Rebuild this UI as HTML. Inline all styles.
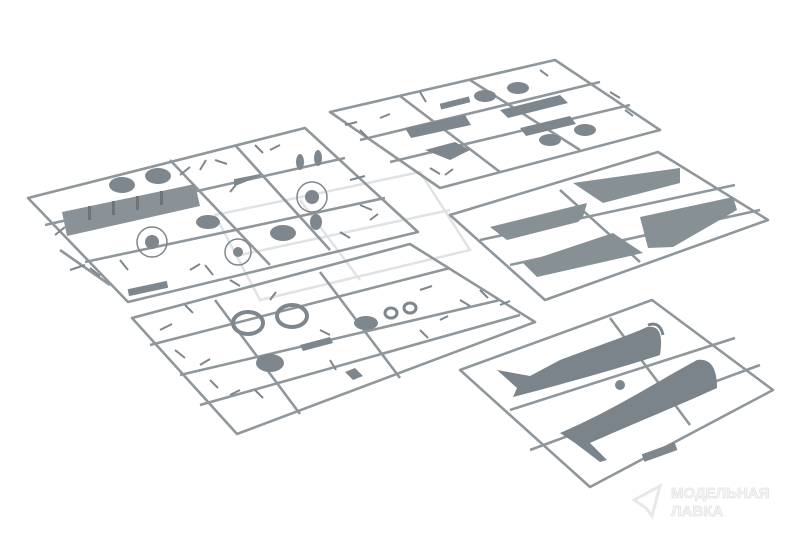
<!DOCTYPE html>
<html><head><meta charset="utf-8"><style>
html,body{margin:0;padding:0;background:#fff;width:797px;height:539px;overflow:hidden}
</style></head><body>
<svg width="797" height="539" viewBox="0 0 797 539" xmlns="http://www.w3.org/2000/svg">
<rect width="797" height="539" fill="#fff"/>
<!-- clear sprue -->
<g fill="none" stroke="#dfe3e5" stroke-width="2.5">
<polygon points="215,215 420,172 470,250 260,300"/>
<line x1="300" y1="200" x2="360" y2="280"/>
<line x1="240" y1="255" x2="450" y2="210"/>
</g>
<g fill="none" stroke="#8f979c" stroke-width="2.6" stroke-linejoin="round">
<!-- frame 1 -->
<polygon points="28,198 305,128 418,232 128,302"/>
<line x1="170" y1="160" x2="270" y2="265"/>
<line x1="45" y1="225" x2="345" y2="158"/>
<line x1="85" y1="262" x2="385" y2="198"/>
<line x1="60" y1="250" x2="110" y2="285"/>
<line x1="235" y1="145" x2="330" y2="250"/>
<!-- frame 2 -->
<polygon points="330,112 555,60 660,130 440,188"/>
<line x1="400" y1="96" x2="500" y2="172"/>
<line x1="470" y1="80" x2="580" y2="150"/>
<line x1="360" y1="140" x2="600" y2="82"/>
<line x1="390" y1="162" x2="630" y2="105"/>
<!-- frame 3 -->
<polygon points="450,215 658,152 768,220 545,300"/>
<line x1="560" y1="190" x2="640" y2="262"/>
<line x1="480" y1="240" x2="735" y2="185"/>
<line x1="510" y1="265" x2="760" y2="210"/>
<!-- frame 4 -->
<polygon points="132,318 410,244 535,322 237,434"/>
<line x1="215" y1="300" x2="300" y2="414"/>
<line x1="320" y1="272" x2="400" y2="378"/>
<line x1="150" y1="345" x2="450" y2="268"/>
<line x1="180" y1="375" x2="500" y2="300"/>
<line x1="200" y1="405" x2="520" y2="315"/>
<!-- frame 5 -->
<polygon points="460,370 652,300 773,390 590,487"/>
<line x1="610" y1="318" x2="690" y2="425"/>
<line x1="510" y1="410" x2="735" y2="338"/>
<line x1="530" y1="450" x2="760" y2="365"/>
</g>
<g fill="#7e878d">
<!-- frame1 cowling segments -->
<path d="M62,212 l133,-28 l5,22 l-133,30z" fill="#8a9297"/>
<g fill="#6c757b"><rect x="88" y="206" width="3" height="14"/><rect x="112" y="201" width="3" height="14"/><rect x="136" y="196" width="3" height="14"/><rect x="160" y="191" width="3" height="14"/></g>
<ellipse cx="122" cy="185" rx="13" ry="8"/><ellipse cx="158" cy="176" rx="13" ry="8"/>
<ellipse cx="283" cy="233" rx="13" ry="8"/>
<ellipse cx="208" cy="222" rx="12" ry="7"/>
<circle cx="152" cy="242" r="15" fill="none" stroke="#7e878d" stroke-width="1.5"/><circle cx="152" cy="242" r="7"/>
<circle cx="238" cy="252" r="13" fill="none" stroke="#7e878d" stroke-width="1.5"/><circle cx="238" cy="252" r="5"/>
<circle cx="312" cy="197" r="15" fill="none" stroke="#7e878d" stroke-width="1.5"/><circle cx="312" cy="197" r="7"/>
<path d="M235,185 l25,-10 l-25,5z M240,180 l-10,12" stroke="#7e878d" stroke-width="2"/>
<ellipse cx="300" cy="162" rx="4" ry="8"/><ellipse cx="318" cy="158" rx="4" ry="8"/>
<rect x="128" y="285" width="40" height="7" transform="rotate(-12 148 289)"/>
<ellipse cx="316" cy="222" rx="6" ry="8"/>
<!-- frame1 clutter -->
<g stroke="#7e878d" stroke-width="2" fill="none">
<path d="M70,270 l15,-5 M90,268 l10,8 M120,260 l8,10 M180,175 l10,-8 M200,170 l6,-10 M215,160 l12,4 M255,145 l8,8 M270,150 l10,-5 M350,180 l15,-4 M360,205 l12,5 M190,270 l10,-6 M205,265 l8,10 M340,232 l10,6 M370,220 l8,-6 M55,235 l10,-8"/>
</g>
<!-- frame2 parts -->
<path d="M405,128 l60,-13 l6,10 l-60,13z"/>
<path d="M425,150 l30,-8 l15,8 l-20,10z"/>
<ellipse cx="485" cy="96" rx="11" ry="6"/><ellipse cx="518" cy="88" rx="11" ry="6"/>
<path d="M500,110 l60,-15 l8,8 l-60,15z"/>
<path d="M520,128 l50,-12 l6,8 l-50,12z"/>
<ellipse cx="550" cy="140" rx="11" ry="6"/><ellipse cx="585" cy="130" rx="11" ry="6"/>
<rect x="440" y="100" width="30" height="6" transform="rotate(-14 455 103)"/>
<g stroke="#7e878d" stroke-width="2" fill="none">
<path d="M345,125 l12,-3 M360,130 l8,8 M380,118 l10,-4 M430,168 l10,6 M445,175 l8,-6 M610,92 l10,6 M625,110 l8,6 M540,70 l8,6 M420,92 l6,10"/>
</g>
<!-- wings -->
<path d="M490,227 L587,203 L583,217 L578,222 L507,240 Z" fill="#879095"/>
<path d="M573,183 L680,168 L680,183 L603,203 Z" fill="#879095"/>
<path d="M523,263 L613,233 L643,253 L537,277 Z" fill="#879095"/>
<path d="M640,217 L733,197 L737,210 L673,247 L648,248 Z" fill="#879095"/>
<!-- frame4 parts -->
<ellipse cx="248" cy="323" rx="15" ry="11" fill="none" stroke="#7e878d" stroke-width="4"/>
<ellipse cx="292" cy="316" rx="15" ry="11" fill="none" stroke="#7e878d" stroke-width="4"/>
<ellipse cx="270" cy="363" rx="14" ry="9"/>
<ellipse cx="366" cy="323" rx="12" ry="7"/>
<ellipse cx="391" cy="313" rx="6" ry="5" fill="none" stroke="#7e878d" stroke-width="3"/>
<ellipse cx="410" cy="308" rx="6" ry="5" fill="none" stroke="#7e878d" stroke-width="3"/>
<path d="M300,345 l30,-8 l3,6 l-30,8z"/>
<path d="M345,372 l10,-4 l8,8 l-10,4z"/>
<g stroke="#7e878d" stroke-width="2" fill="none">
<path d="M160,330 l12,-6 M175,350 l10,8 M200,365 l10,-6 M210,380 l8,8 M230,395 l10,-5 M255,390 l8,8 M320,330 l10,5 M330,360 l6,10 M420,330 l8,8 M440,320 l8,-4 M460,300 l10,6 M480,290 l8,8 M500,305 l10,-4 M420,290 l12,-4 M230,280 l10,6 M270,300 l6,-8 M185,305 l8,8"/>
</g>
<!-- fuselages -->
<path d="M497,370 L530,376 L560,360 C600,345 630,335 647,327 C660,325 663,335 660,355 C630,365 560,385 513,397 L517,388 Z" fill="#7b848a"/>
<path d="M648,325 q12,-4 15,10" stroke="#7b848a" stroke-width="3" fill="none"/>
<path d="M560,433 C610,412 660,380 697,360 C712,358 717,370 717,388 C680,405 630,425 590,443 L607,460 L600,462 L575,443 Z" fill="#7b848a"/>
<circle cx="620" cy="385" r="5"/>
<rect x="642" y="448" width="35" height="8" transform="rotate(-20 660 452)"/>
</g>
<g font-family="'Liberation Sans', sans-serif" font-weight="bold" fill="#f5f6f7" stroke="#e1e4e6" stroke-width="0.8" font-size="15">
<text x="671" y="498">МОДЕЛЬНАЯ</text>
<text x="671" y="516">ЛАВКА</text>
</g>
<path d="M634,500 l26,-14 l-8,30 l-6,-8z" fill="none" stroke="#e6e8ea" stroke-width="3"/>
</svg>
</body></html>
